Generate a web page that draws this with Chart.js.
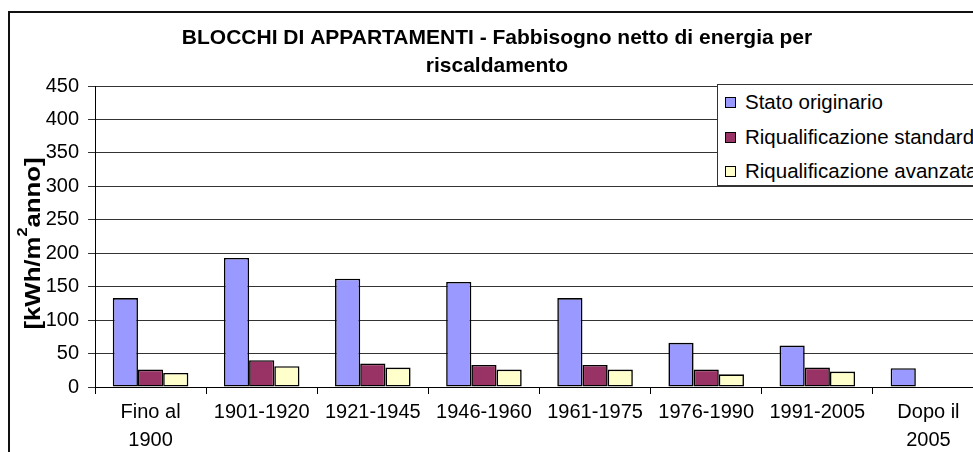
<!DOCTYPE html>
<html lang="it">
<head>
<meta charset="utf-8">
<title>Blocchi di appartamenti - fabbisogno di energia</title>
<script src="https://cdn.jsdelivr.net/npm/chart.js@4.4.1/dist/chart.umd.min.js"></script>
<style>
  html, body { margin: 0; padding: 0; background: #fff; overflow: hidden; width: 973px; height: 452px; }
  #cornice { position: absolute; left: 8px; top: 11px; width: 1000px; height: 460px; border-left: 2px solid #111; border-top: 2px solid #111; }
  #grafico { position: absolute; left: 0; top: 0; }
  #legenda { position: absolute; left: 717px; top: 84px; width: 300px; height: 102px; background: #fff; border: 1px solid #333; box-sizing: border-box; font-family: 'Liberation Sans', Arial, sans-serif; font-size: 20.5px; color: #000; }
  .voce { position: absolute; left: 7px; height: 24px; line-height: 24px; white-space: nowrap; }
  .voce span.quadro { display: inline-block; width: 9px; height: 9px; border: 1px solid #000; margin-right: 9px; vertical-align: 1px; }
</style>
</head>
<body>
<div id="cornice"><canvas id="grafico" width="974" height="439"></canvas></div>
<div id="legenda"></div>
<script>
// periodi di costruzione
const PERIODI = [['Fino al', '1900'], '1901-1920', '1921-1945', '1946-1960', '1961-1975', '1976-1990', '1991-2005', ['Dopo il', '2005']];

// kWh/m²anno
const STATO_ORIGINARIO = [133, 193, 162, 157, 133, 66, 62, 28];
const RIQ_STANDARD = [26, 40, 35, 33, 33, 26, 29, null];
const RIQ_AVANZATA = [21, 31, 29, 26, 26, 19, 23, null];

const SERIE = ['Stato originario', 'Riqualificazione standard', 'Riqualificazione avanzata'];
const COLORI = ['#9999FF', '#993366', '#FFFFCC'];

const TITOLO = ['BLOCCHI DI APPARTAMENTI - Fabbisogno netto di energia per', 'riscaldamento'];
// unità dell'asse y, con il "2" ad apice
const TITOLO_Y = [['[kWh/m', false], ['2', true], ['anno]', false]];
const Y_MAX = 450;
const Y_PASSO = 50;

const FONT = "'Liberation Sans', Arial, sans-serif";

// titolo verticale dell'asse y disegnato a mano per avere l'apice
const titoloAsseY = {
    id: 'titoloAsseY',
    afterDraw(chart) {
        const { ctx, chartArea } = chart;
        const normale = 'bold 22px ' + FONT;
        const apice = 'bold 14px ' + FONT;
        ctx.save();
        ctx.translate(30, (chartArea.top + chartArea.bottom) / 2 + 7);
        ctx.rotate(-Math.PI / 2);
        ctx.scale(1.17, 1);
        ctx.fillStyle = '#000';
        ctx.textBaseline = 'alphabetic';
        let totale = 0;
        TITOLO_Y.forEach(([t, su]) => { ctx.font = su ? apice : normale; totale += ctx.measureText(t).width; });
        let x = -totale / 2;
        TITOLO_Y.forEach(([t, su]) => {
            ctx.font = su ? apice : normale;
            ctx.fillText(t, x, su ? -13 : 0);
            x += ctx.measureText(t).width;
        });
        ctx.restore();
    }
};

const ctx = document.getElementById('grafico');

new Chart(ctx, {
    type: 'bar',
    data: {
        labels: PERIODI,
        datasets: [STATO_ORIGINARIO, RIQ_STANDARD, RIQ_AVANZATA].map((valori, i) => ({
            label: SERIE[i],
            data: valori,
            backgroundColor: COLORI[i],
            borderColor: '#000',
            borderWidth: 1.6,
            borderSkipped: false,
            barPercentage: 1,
            categoryPercentage: 0.68,
        }))
    },
    options: {
        responsive: false,
        animation: false,
        layout: { padding: 0 },
        plugins: {
            legend: { display: false },
            tooltip: { enabled: false },
            title: {
                display: true,
                text: TITOLO,
                color: '#000',
                font: { family: FONT, size: 21, weight: 'bold', lineHeight: '28px' },
                padding: { top: 11, bottom: 6 },
            }
        },
        scales: {
            x: {
                grid: { display: true, drawOnChartArea: false, offset: true, tickLength: 7, color: '#000' },
                border: { color: '#000' },
                ticks: {
                    color: '#000',
                    font: { family: FONT, size: 20, lineHeight: '28px' },
                    padding: 4,
                    maxRotation: 0,
                    autoSkip: false,
                },
                afterFit: scala => { scala.height = 65; }
            },
            y: {
                min: 0,
                max: Y_MAX,
                grid: { color: '#333', tickLength: 7 },
                border: { color: '#000' },
                ticks: {
                    stepSize: Y_PASSO,
                    color: '#000',
                    font: { family: FONT, size: 20 },
                    padding: 9,
                },
                afterFit: scala => { scala.width = 85; }
            }
        }
    },
    plugins: [titoloAsseY]
});

// legenda con riquadro bianco sopra la griglia
const legenda = document.getElementById('legenda');
SERIE.forEach((nome, i) => {
    const voce = document.createElement('div');
    voce.className = 'voce';
    voce.style.top = (5 + i * 34.5) + 'px';
    voce.innerHTML = '<span class="quadro" style="background:' + COLORI[i] + '"></span>' + nome;
    legenda.appendChild(voce);
});
</script>
</body>
</html>
